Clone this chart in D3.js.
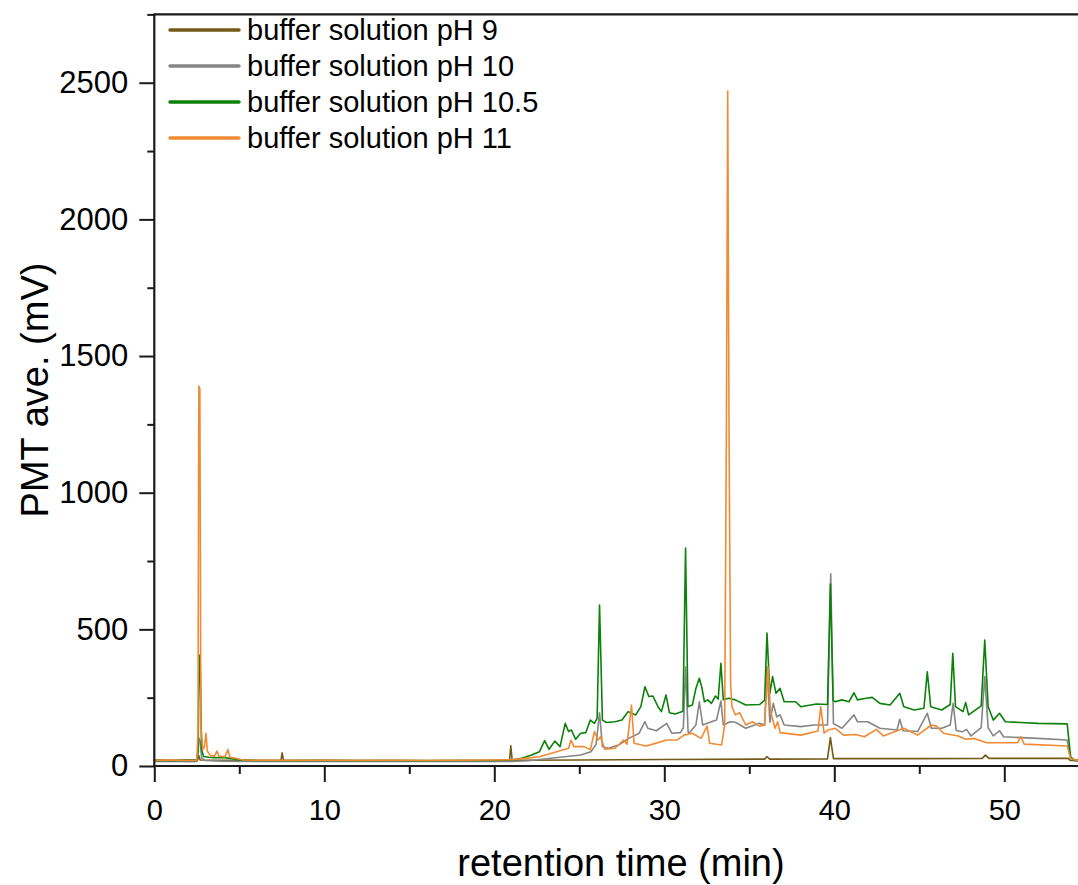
<!DOCTYPE html>
<html>
<head>
<meta charset="utf-8">
<script src="https://cdn.jsdelivr.net/npm/d3@7"></script>
<style>
  body { margin: 0; background: #fff; }
  svg { display: block; font-family: "Liberation Sans", Arial, sans-serif; }
</style>
</head>
<body>
<div id="main"></div>
<script>
// chart data
var seriesNames = ['buffer solution pH 9', 'buffer solution pH 10', 'buffer solution pH 10.5', 'buffer solution pH 11'];
var seriesColors = ['#735a17', '#858585', '#0a820a', '#f28a33'];

var xMajorTicks = [0, 10, 20, 30, 40, 50];
var xMinorTicks = [5, 15, 25, 35, 45, 55];
var yMajorTicks = [0, 500, 1000, 1500, 2000, 2500];
var yMinorTicks = [250, 750, 1250, 1750, 2250, 2750];

// [retention time (min), PMT ave. (mV)]
var ph9Points = [
  [0, 22], [1, 21], [2, 22], [2.55, 22], [2.62, 38], [2.7, 22], [5, 21], [7.45, 21], [7.52, 48], [7.6, 21],
  [10, 21], [15, 20], [20.9, 21], [20.97, 74], [21.05, 21], [25, 22], [30, 24], [35.9, 25], [36.04, 34],
  [36.2, 25], [39.6, 26], [39.77, 104], [39.95, 27], [45, 27], [48.7, 28], [48.89, 40], [49.1, 28],
  [53.75, 28], [53.9, 20], [55, 18]
];

var ph10Points = [
  [0, 17], [1, 18], [2, 16], [2.5, 17], [2.56, 40], [2.62, 102], [2.7, 90], [2.78, 30], [3.0, 20], [4, 18],
  [6, 17], [10, 17], [15, 17], [20, 17], [21, 17], [22, 19], [22.65, 24], [23.87, 32], [25.08, 40],
  [25.69, 52], [25.99, 80], [26.19, 195], [26.36, 71], [26.7, 65], [27.31, 77], [27.91, 101], [28.52, 120],
  [28.86, 162], [29.03, 138], [29.53, 129], [30.14, 156], [30.44, 120], [30.95, 122], [31.12, 140],
  [31.25, 363], [31.4, 125], [31.45, 120], [31.86, 150], [32.06, 235], [32.26, 150], [32.77, 162],
  [33.07, 168], [33.33, 238], [33.47, 150], [33.88, 162], [34.18, 160], [34.79, 138], [35.6, 156],
  [35.9, 150], [36.04, 363], [36.21, 160], [36.41, 229], [36.61, 180], [36.81, 187], [37.05, 150],
  [38.03, 144], [38.83, 150], [39.6, 150], [39.79, 703], [39.95, 155], [40.45, 138], [41.16, 187],
  [41.36, 162], [41.97, 162], [42.68, 138], [43.69, 132], [43.85, 171], [44.05, 129], [44.9, 126],
  [45.47, 193], [45.71, 138], [46.32, 138], [46.82, 150], [46.99, 229], [47.17, 130], [47.53, 125],
  [47.78, 134], [48.04, 110], [48.64, 140], [48.85, 327], [49.05, 140], [49.35, 110], [49.72, 129],
  [49.96, 107], [51.98, 101], [53.7, 95], [53.9, 28], [54.21, 18], [55, 18]
];

var ph105Points = [
  [0, 20], [1, 19], [2, 21], [2.5, 20], [2.58, 60], [2.64, 406], [2.7, 380], [2.78, 60], [2.9, 35],
  [3.2, 32], [3.5, 30], [4.0, 31], [4.5, 28], [5, 22], [6, 20], [8, 19], [10, 20], [12, 19], [14, 20],
  [16, 19], [18, 20], [20, 20], [21, 22], [21.6, 28], [22.2, 40], [22.65, 52], [22.96, 93], [23.22, 61],
  [23.56, 91], [23.87, 71], [24.17, 156], [24.37, 126], [24.53, 132], [24.78, 98], [25.08, 120],
  [25.38, 122], [25.65, 168], [25.89, 156], [26.05, 175], [26.19, 589], [26.36, 168], [26.6, 159],
  [27.1, 162], [27.51, 168], [27.87, 199], [28.32, 187], [28.62, 217], [28.86, 290], [29.09, 254],
  [29.33, 256], [29.63, 217], [29.83, 199], [30.1, 260], [30.3, 195], [30.64, 190], [31.1, 200],
  [31.25, 797], [31.39, 217], [31.65, 223], [31.86, 284], [32.06, 321], [32.2, 290], [32.36, 235],
  [32.56, 242], [32.77, 229], [33.01, 256], [33.17, 245], [33.33, 376], [33.47, 242], [33.78, 248],
  [34.18, 242], [34.79, 223], [35.6, 225], [35.9, 240], [36.04, 486], [36.21, 266], [36.37, 327],
  [36.57, 266], [36.81, 284], [37.05, 235], [37.72, 235], [38.03, 217], [38.94, 227], [39.6, 225],
  [39.77, 666], [39.93, 240], [40.05, 235], [40.45, 242], [40.86, 235], [41.16, 268], [41.36, 242],
  [41.87, 248], [42.23, 251], [42.68, 229], [43.28, 223], [43.85, 266], [44.09, 217], [44.7, 205],
  [45.27, 211], [45.47, 345], [45.67, 217], [46.32, 205], [46.82, 225], [46.97, 412], [47.13, 217],
  [47.57, 199], [47.73, 232], [47.9, 187], [48.64, 220], [48.85, 461], [49.05, 217], [49.35, 168],
  [49.72, 193], [50.06, 162], [50.97, 159], [51.98, 156], [53.7, 154], [53.9, 34], [54.11, 22], [55, 20]
];

var ph11Points = [
  [0, 21], [1, 22], [2, 20], [2.5, 21], [2.57, 120], [2.62, 1390], [2.68, 1380], [2.74, 150], [2.85, 60],
  [2.95, 70], [3.04, 120], [3.12, 55], [3.3, 38], [3.55, 36], [3.68, 55], [3.8, 36], [4.15, 34],
  [4.33, 60], [4.45, 32], [4.8, 28], [5.2, 22], [6, 21], [8, 20], [10, 21], [12, 20], [14, 21], [16, 20],
  [18, 21], [20, 22], [21, 23], [21.8, 28], [22.65, 34], [23.67, 52], [24.37, 65], [24.51, 95],
  [24.68, 71], [25.28, 71], [25.65, 59], [25.89, 126], [26.09, 95], [26.25, 107], [26.5, 61], [27.1, 65],
  [27.61, 95], [27.81, 80], [28.07, 223], [28.22, 83], [28.92, 73], [29.33, 80], [30.14, 95],
  [30.74, 95], [31.15, 113], [31.65, 120], [32.16, 101], [32.52, 146], [32.67, 83], [33.37, 77],
  [33.55, 150], [33.65, 1200], [33.73, 2470], [33.81, 1200], [33.9, 300], [33.98, 217], [34.18, 187],
  [34.43, 195], [34.79, 150], [35.19, 162], [35.6, 146], [35.9, 150], [36.1, 363], [36.25, 200],
  [36.51, 138], [36.67, 162], [36.81, 122], [38.03, 113], [39.04, 128], [39.2, 217], [39.4, 120],
  [39.64, 132], [40.05, 138], [40.55, 113], [41.26, 115], [41.77, 107], [42.48, 134], [42.88, 110],
  [44.09, 138], [44.9, 113], [45.71, 150], [46.02, 146], [46.42, 120], [47.29, 110], [47.73, 98],
  [48.24, 101], [48.95, 85], [50.77, 85], [50.97, 107], [51.17, 80], [53.7, 73], [53.9, 28], [54.31, 20],
  [55, 20]
];


function Sketch() {
  this.width = 1078;
  this.height = 885;
  this.left = 154.3;
  this.top = 14.4;
  this.bottom = 766;
  this.pxPerMin = 17.0;
}

Sketch.prototype.init = function() {
  this.svg = d3.select('#main')
    .append('svg')
    .attr('width', this.width)
    .attr('height', this.height);

  this.x = d3.scaleLinear()
    .domain([0, 55])
    .range([this.left, this.left + 55 * this.pxPerMin]);

  this.y = d3.scaleLinear()
    .domain([0, 2750])
    .range([this.bottom, this.top]);
};

Sketch.prototype.update = function() {
  var all = [ph9Points, ph10Points, ph105Points, ph11Points];
  this.data = all.map(function(pts, i) {
    return { name: seriesNames[i], color: seriesColors[i], points: pts };
  });
};

Sketch.prototype.render = function() {
  var x = this.x, y = this.y, svg = this.svg;
  var plain = d3.format('d');

  // traces
  var line = d3.line()
    .x(function(d) { return x(d[0]); })
    .y(function(d) { return y(d[1]); });

  svg.append('g')
    .attr('class', 'traces')
    .selectAll('path')
    .data(this.data)
    .enter()
    .append('path')
    .attr('d', function(d) { return line(d.points); })
    .attr('fill', 'none')
    .attr('stroke', function(d) { return d.color; })
    .attr('stroke-width', 1.6)
    .attr('stroke-linejoin', 'round');

  // x axis
  var xMinor = svg.append('g')
    .attr('transform', 'translate(0,' + this.bottom + ')')
    .call(d3.axisBottom(x).tickValues(xMinorTicks).tickSize(8).tickSizeOuter(0).tickFormat(''));
  xMinor.select('.domain').remove();

  var xAxis = svg.append('g')
    .attr('transform', 'translate(0,' + this.bottom + ')')
    .call(d3.axisBottom(x).tickValues(xMajorTicks).tickSize(16).tickSizeOuter(0)
      .tickPadding(17).tickFormat(plain));
  xAxis.select('.domain').remove();
  xAxis.selectAll('text')
    .attr('font-size', 29)
    .attr('font-family', '"Liberation Sans", Arial, sans-serif')
    .attr('fill', '#000');

  // y axis
  var yMinor = svg.append('g')
    .attr('transform', 'translate(' + this.left + ',0)')
    .call(d3.axisLeft(y).tickValues(yMinorTicks).tickSize(7).tickSizeOuter(0).tickFormat(''));
  yMinor.select('.domain').remove();

  var yAxis = svg.append('g')
    .attr('transform', 'translate(' + this.left + ',0)')
    .call(d3.axisLeft(y).tickValues(yMajorTicks).tickSize(15).tickSizeOuter(0)
      .tickPadding(11).tickFormat(plain));
  yAxis.select('.domain').remove();
  yAxis.selectAll('text')
    .attr('font-size', 31)
    .attr('font-family', '"Liberation Sans", Arial, sans-serif')
    .attr('fill', '#000');

  svg.selectAll('.tick line')
    .attr('stroke', '#1a1a1a')
    .attr('stroke-width', 2);

  // frame: left, bottom, top, right
  var right = x(55);
  var frame = [
    {x1: this.left, y1: this.top, x2: this.left, y2: this.bottom},
    {x1: this.left - 1, y1: this.bottom, x2: right, y2: this.bottom},
    {x1: this.left - 1, y1: this.top, x2: right, y2: this.top},
    {x1: right, y1: this.top, x2: right, y2: this.bottom}
  ];
  svg.append('g')
    .selectAll('line')
    .data(frame)
    .enter()
    .append('line')
    .attr('x1', function(d) { return d.x1; })
    .attr('y1', function(d) { return d.y1; })
    .attr('x2', function(d) { return d.x2; })
    .attr('y2', function(d) { return d.y2; })
    .attr('stroke', '#1a1a1a')
    .attr('stroke-width', 2.2);

  // axis titles
  svg.append('text')
    .attr('x', 621)
    .attr('y', 876)
    .attr('text-anchor', 'middle')
    .attr('font-size', 38)
    .text('retention time (min)');

  svg.append('text')
    .attr('transform', 'translate(48,390) rotate(-90)')
    .attr('text-anchor', 'middle')
    .attr('font-size', 38)
    .text('PMT ave. (mV)');

  // legend
  var legend = svg.append('g')
    .attr('class', 'legend')
    .selectAll('g')
    .data(this.data)
    .enter()
    .append('g')
    .attr('transform', function(d, i) { return 'translate(0,' + (30 + i * 36) + ')'; });

  legend.append('line')
    .attr('x1', 170)
    .attr('x2', 239)
    .attr('y1', 0)
    .attr('y2', 0)
    .attr('stroke', function(d) { return d.color; })
    .attr('stroke-width', 3.5)
    .attr('stroke-linecap', 'round');

  legend.append('text')
    .attr('x', 247)
    .attr('y', 10)
    .attr('font-size', 29)
    .text(function(d) { return d.name; });
};


document.addEventListener('DOMContentLoaded', function() {
  var s = new Sketch();
  s.init();
  s.update();
  s.render();
});
</script>
</body>
</html>
